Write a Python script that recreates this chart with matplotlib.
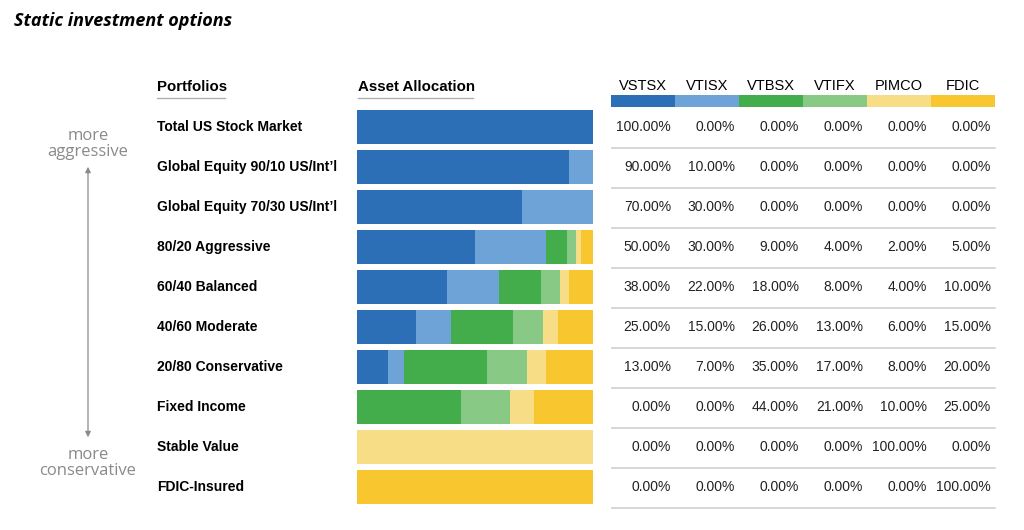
import numpy as np
import matplotlib.pyplot as plt
from matplotlib.patches import FancyArrowPatch

portfolios = ['Total US Stock Market', 'Global Equity 90/10 US/Int\u2019l',
              'Global Equity 70/30 US/Int\u2019l', '80/20 Aggressive', '60/40 Balanced',
              '40/60 Moderate', '20/80 Conservative', 'Fixed Income', 'Stable Value',
              'FDIC-Insured']
funds = ['VSTSX', 'VTISX', 'VTBSX', 'VTIFX', 'PIMCO', 'FDIC']
vstsx = [100, 90, 70, 50, 38, 25, 13, 0, 0, 0]
vtisx = [0, 10, 30, 30, 22, 15, 7, 0, 0, 0]
vtbsx = [0, 0, 0, 9, 18, 26, 35, 44, 0, 0]
vtifx = [0, 0, 0, 4, 8, 13, 17, 21, 0, 0]
pimco = [0, 0, 0, 2, 4, 6, 8, 10, 100, 0]
fdic = [0, 0, 0, 5, 10, 15, 20, 25, 0, 100]
COLORS = ['#2D6FB7', '#6EA3D7', '#42AD4A', '#89C986', '#F7DE86', '#F8C62F']

alloc = np.array([vstsx, vtisx, vtbsx, vtifx, pimco, fdic], dtype=float)

fig = plt.figure(figsize=(10.24, 5.3), dpi=100)
ax = fig.add_axes([0, 0, 1, 1])
ax.set_xlim(0, 1024); ax.set_ylim(530, 0); ax.axis('off')

NARROW = ['Liberation Sans Narrow', 'Liberation Sans', 'DejaVu Sans']
SANS = ['Liberation Sans', 'DejaVu Sans']

ax.text(14, 21, 'Static investment options', fontsize=13, fontweight='bold',
        fontstyle='italic', family=['Open Sans', 'DejaVu Sans'], va='center', ha='left')

# column headers
ax.text(157, 87, 'Portfolios', fontsize=10.8, fontweight='bold', family=NARROW, va='center')
ax.plot([157, 225], [97.5, 97.5], color='#b0b0b0', lw=1)
ax.text(358, 87, 'Asset Allocation', fontsize=10.8, fontweight='bold', family=NARROW, va='center')
ax.plot([358, 473], [97.5, 97.5], color='#b0b0b0', lw=1)

y = 127 + 40 * np.arange(len(portfolios))
bx0, bw = 357, 236
left = np.zeros(len(portfolios))
for k in range(len(funds)):
    w = alloc[k] / 100 * bw
    ax.barh(y, w, left=bx0 + left, height=34, color=COLORS[k], edgecolor='none')
    left += w

for yi, name in zip(y, portfolios):
    ax.text(157, yi, name, fontsize=10, fontweight='bold', family=NARROW, va='center')

# table
cx0, cw = 611, 64
for k, f in enumerate(funds):
    xl = cx0 + k * cw
    ax.add_patch(plt.Rectangle((xl, 95), cw, 12, color=COLORS[k], lw=0))
    ax.text(xl + cw / 2, 86, f, fontsize=10.5, family=SANS, ha='center', va='center')
    for i in range(len(portfolios)):
        ax.text(xl + 60, y[i], f'{alloc[k, i]:.2f}%', fontsize=10, family=SANS,
                ha='right', va='center', color='#222222')
for i in range(len(portfolios)):
    ax.plot([612, 995], [y[i] + 21, y[i] + 21], color='#d0d0d0', lw=1.2)

# aggressive / conservative arrow
gray = '#8a8a8a'
ax.text(88, 144, 'more\naggressive', fontsize=12, color=gray, ha='center', va='center',
        family=['Open Sans', 'DejaVu Sans'], linespacing=1.05)
ax.text(88, 463, 'more\nconservative', fontsize=12, color=gray, ha='center', va='center',
        family=['Open Sans', 'DejaVu Sans'], linespacing=1.0)
ax.add_patch(FancyArrowPatch((88, 440), (88, 164), arrowstyle='<|-|>', mutation_scale=8,
                             color=gray, lw=0.9))

fig.savefig('out.png', dpi=100)
